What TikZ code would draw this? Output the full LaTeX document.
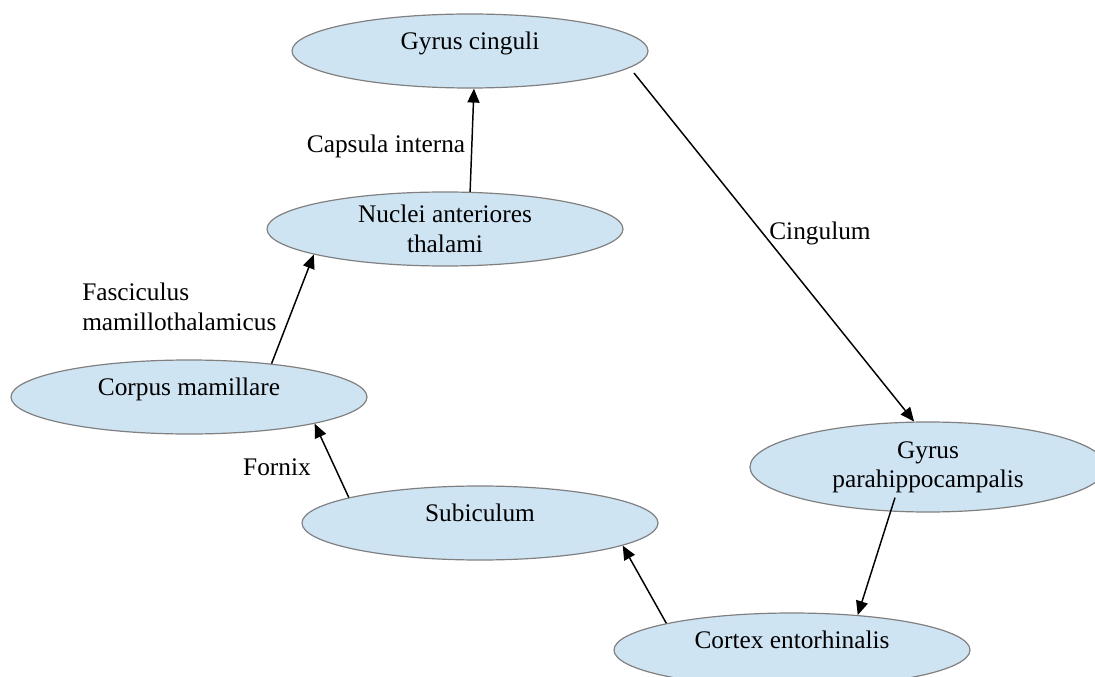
\documentclass[tikz,border=0pt]{standalone}
\usepackage{fontspec}
\setmainfont{Liberation Serif}
\usetikzlibrary{arrows.meta,shapes.geometric}
\definecolor{EllipseClr}{RGB}{207,228,243}
\definecolor{BorderClr}{RGB}{128,128,128}

\begin{document}
\begin{tikzpicture}[x=0.75pt,y=-0.75pt,
  area/.style={ellipse,draw=BorderClr,line width=0.9pt,fill=EllipseClr,inner sep=0pt,
    minimum width=267pt,minimum height=55.5pt,align=center,font=\fontsize{19}{22}\selectfont},
  oneline/.style={text height=13pt,text depth=15.5pt},
  tract/.style={line width=1.1pt,-{Triangle[length=10.5pt,width=9pt]}},
  tractlbl/.style={inner sep=0pt,font=\fontsize{19}{22}\selectfont}]
\useasboundingbox (0,0) rectangle (1095,677);

% areas of the circuit
\node[area,oneline] (cing) at (470,51) {Gyrus cinguli};
\node[area] (nucl) at (445,229) {Nuclei anteriores\\thalami};
\node[area,oneline] (corp) at (189,397) {Corpus mamillare};
\node[area,oneline] (subic) at (480,523) {Subiculum};
\node[area,minimum height=67.5pt] (gpara) at (928,467) {Gyrus\\parahippocampalis};
\node[area,oneline] (cortex) at (792,650) {Cortex entorhinalis};

% tracts
\draw[tract] (nucl.56) -- (cing.-84);
\draw[tract] (corp.22) -- (nucl.191);
\draw[tract] (subic.169) -- (corp.-12);
\draw[tract] (cortex.168) -- (subic.-9);
\draw[tract,shorten <=-11pt] (gpara.-130) -- (cortex.28);
\draw[tract,shorten <=5pt] (cing.-6) -- (gpara.107);

\node[tractlbl] (capsula) at (386,146) {Capsula interna};
\node[tractlbl,align=left,anchor=west] (fascic) at (82,307) {Fasciculus\\mamillothalamicus};
\node[tractlbl] (fornix) at (277,467) {Fornix};
\node[tractlbl] (cingulum) at (820,233) {Cingulum};

\end{tikzpicture}
\end{document}
